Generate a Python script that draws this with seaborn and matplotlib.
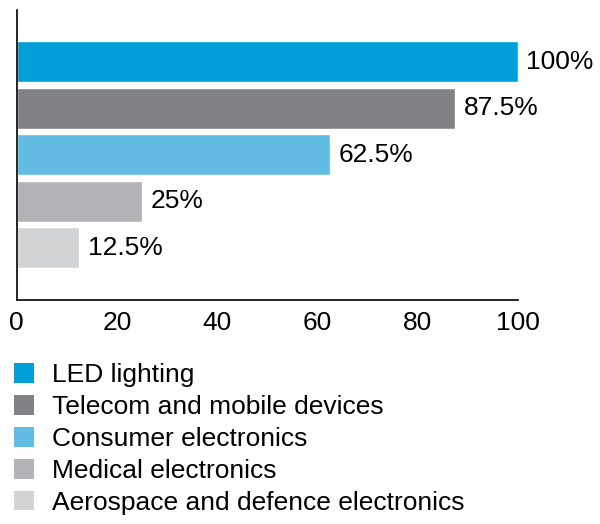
import matplotlib
matplotlib.use('Agg')
import matplotlib.pyplot as plt
import seaborn as sns
import pandas as pd
from matplotlib.patches import Patch

# Data
categories = ['LED lighting', 'Telecom and mobile devices', 'Consumer electronics',
              'Medical electronics', 'Aerospace and defence electronics']
shares = [100, 87.5, 62.5, 25, 12.5]
colors = ['#009fda', '#808285', '#62bbe2', '#b1b3b6', '#d1d3d4']

df = pd.DataFrame({'Category': categories, 'Share': shares})

sns.set_style('white')
plt.rcParams['font.family'] = ['Liberation Sans', 'DejaVu Sans']
plt.rcParams['text.color'] = 'black'
plt.rcParams['xtick.color'] = 'black'

fig = plt.figure(figsize=(6, 5.24), dpi=100)
ax = fig.add_axes([0.028, 0.427, 0.835, 0.554])

sns.barplot(data=df, y='Category', x='Share', hue='Category', palette=colors,
            width=0.88, legend=False, ax=ax, saturation=1)

# value labels at the end of each bar
for cont in ax.containers:
    ax.bar_label(cont, fmt=lambda v: f'{v:g}%', padding=6, fontsize=19, color='black')

ax.set_xlim(0, 100)
ax.set_ylim(5.13, -1.11)
ax.set_xticks([0, 20, 40, 60, 80, 100])
ax.set_yticks([])
ax.set_xlabel('')
ax.set_ylabel('')
ax.tick_params(axis='x', direction='in', length=5, width=1, color='black',
               labelsize=19, labelcolor='black', pad=8)
for side in ['top', 'right']:
    ax.spines[side].set_visible(False)
for side in ['left', 'bottom']:
    ax.spines[side].set_color('black')
    ax.spines[side].set_linewidth(1.2)

# legend below the chart
handles = [Patch(facecolor=c, edgecolor='none') for c in colors]
fig.legend(handles, categories, loc='upper left', bbox_to_anchor=(0.005, 0.327),
           frameon=False, fontsize=19, handlelength=0.76, handleheight=0.76,
           handletextpad=0.68, labelspacing=0.3, borderaxespad=0)

fig.savefig('out.png', dpi=100)
